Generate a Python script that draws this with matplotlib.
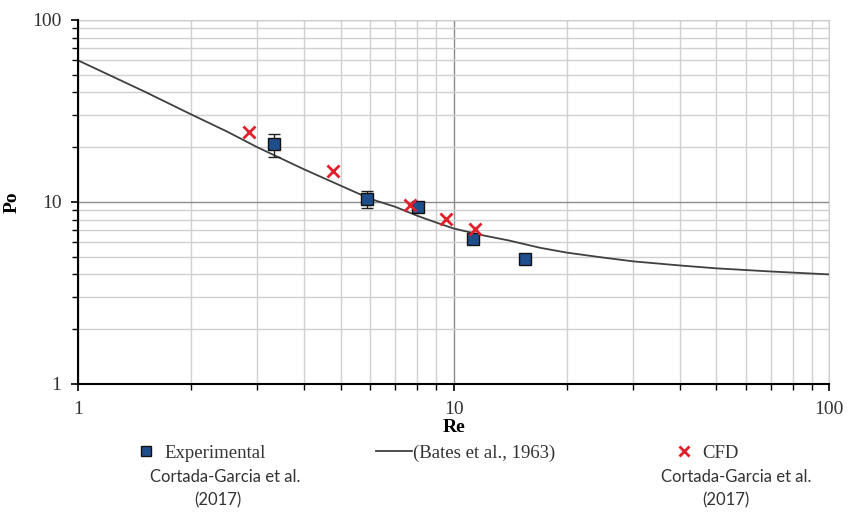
import numpy as np
import matplotlib.pyplot as plt
import matplotlib.ticker as ticker
from matplotlib.lines import Line2D

# experimental data (Cortada-Garcia et al., 2017)
re_exp = [3.33, 5.87, 8.06, 11.25, 15.5]
po_exp = [20.7, 10.4, 9.43, 6.29, 4.84]
err_exp = [3.0, 1.1, 0.0, 0.0, 0.0]

# CFD results (Cortada-Garcia et al., 2017)
re_cfd = [2.86, 4.77, 7.63, 9.54, 11.43]
po_cfd = [24.1, 14.8, 9.67, 8.03, 7.08]

# correlation curve (Bates et al., 1963)
re_bates = [1, 1.5, 2, 2.5, 3, 4, 5, 6, 7, 8, 9, 10, 12, 14, 17, 20,
            25, 30, 40, 50, 70, 100]
po_bates = [60, 40.5, 30.3, 24.3, 20.0, 15.1, 12.3, 10.4, 9.4, 8.4, 7.7, 7.15,
            6.55, 6.15, 5.6, 5.27, 4.95, 4.72, 4.48, 4.32, 4.15, 4.0]

serif = 'Liberation Serif'
sans = ['Lato', 'DejaVu Sans']
txt_col = '#333333'

fig = plt.figure(figsize=(8.48, 5.12), dpi=100)
ax = fig.add_axes([0.092, 0.25, 0.886, 0.711])

ax.plot(re_bates, po_bates, color='#404040', lw=1.3, zorder=3)

# error bars only where they exist
err = np.array(err_exp)
has_err = err > 0
ax.errorbar(np.array(re_exp)[has_err], np.array(po_exp)[has_err], yerr=err[has_err],
            fmt='none', ecolor='#222222', elinewidth=1, capsize=4, capthick=1, zorder=4)
ax.plot(re_exp, po_exp, 's', ms=8, mfc='#1F4E8C', mec='#111111', mew=1, zorder=5)
ax.plot(re_cfd, po_cfd, 'x', ms=9, mew=2, color='#E0202A', zorder=6)

ax.set_xscale('log')
ax.set_yscale('log')
ax.set_xlim(1, 100)
ax.set_ylim(1, 100)

ax.xaxis.set_major_formatter(ticker.FuncFormatter(lambda v, p: f'{v:g}'))
ax.yaxis.set_major_formatter(ticker.FuncFormatter(lambda v, p: f'{v:g}'))
ax.xaxis.set_minor_formatter(ticker.NullFormatter())
ax.yaxis.set_minor_formatter(ticker.NullFormatter())
ax.xaxis.set_minor_locator(ticker.LogLocator(subs=np.arange(2, 10)))
ax.yaxis.set_minor_locator(ticker.LogLocator(subs=np.arange(2, 10)))

ax.grid(which='major', color='#8c8c8c', lw=1.0)
ax.grid(which='minor', color='#d0d0d0', lw=1.0)
ax.set_axisbelow(True)

for s in ['top', 'right']:
    ax.spines[s].set_color('#d0d0d0')
for s in ['left', 'bottom']:
    ax.spines[s].set_linewidth(1.5)
    ax.spines[s].set_zorder(7)

ax.tick_params(which='major', length=5, width=1.2, direction='out', pad=7)
ax.tick_params(which='minor', length=4, width=1.0, direction='out')
for lab in ax.get_xticklabels() + ax.get_yticklabels():
    lab.set_fontfamily(serif)
    lab.set_fontsize(14)
    lab.set_color(txt_col)

ax.set_xlabel('Re', fontfamily=serif, fontsize=14, fontweight='bold')
ax.set_ylabel('Po', fontfamily=serif, fontsize=14, fontweight='bold')
ax.xaxis.set_label_coords(0.5, -0.097)
ax.yaxis.set_label_coords(-0.077, 0.5)

handles = [
    Line2D([], [], ls='none', marker='s', ms=7, mfc='#1F4E8C', mec='#111111'),
    Line2D([], [], color='#404040', lw=1.3),
    Line2D([], [], ls='none', marker='x', ms=7, mew=2, color='#E0202A'),
]
labels = ['Experimental', '(Bates et al., 1963)', 'CFD']
leg = fig.legend(handles, labels, ncol=3, loc='upper left',
                 bbox_to_anchor=(0.142, 0.146), frameon=False,
                 prop={'family': serif, 'size': 13.5}, columnspacing=5.9,
                 handlelength=1.9, handletextpad=0.05, borderaxespad=0)
for t in leg.get_texts():
    t.set_color(txt_col)

for xc, xy in ((0.265, 0.257), (0.868, 0.856)):
    fig.text(xc, 0.068, 'Cortada-Garcia et al.', ha='center', va='center',
             family=sans, fontsize=12, color=txt_col)
    fig.text(xy, 0.022, '(2017)', ha='center', va='center',
             family=sans, fontsize=12, color=txt_col)

fig.savefig('out.png', dpi=100)
